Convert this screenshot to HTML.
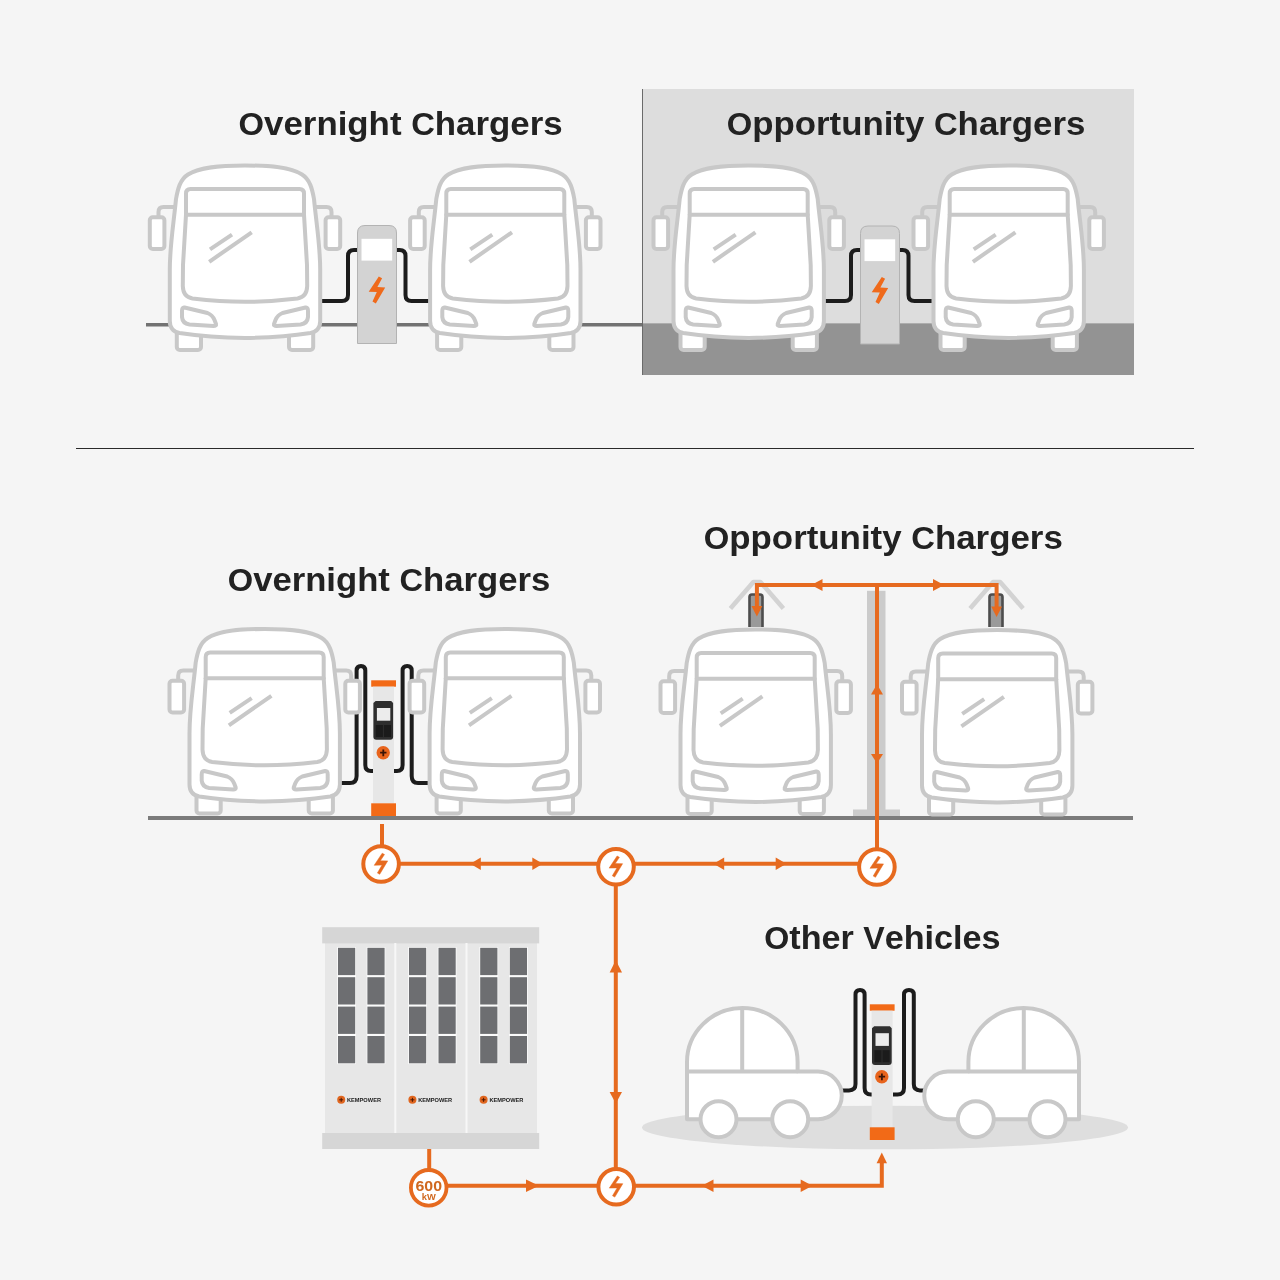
<!DOCTYPE html>
<html><head><meta charset="utf-8"><title>Charging</title>
<style>
html,body{margin:0;padding:0;background:#f5f5f5;}
svg{display:block;}

text{font-family:"Liberation Sans",sans-serif;font-weight:bold;}
</style></head>
<body>
<svg width="1280" height="1280" viewBox="0 0 1280 1280">
<defs>
<g id="bus">
 <g fill="#fff" stroke="#c8c8c8" stroke-width="4" stroke-linejoin="round" stroke-linecap="round">
  <rect x="37.3" y="174" width="24.2" height="21" rx="3"/>
  <rect x="149.5" y="174" width="24.2" height="21" rx="3"/>
  <path d="M19 62 V57 Q19 52 24 52 H35" fill="none"/>
  <path d="M192 62 V57 Q192 52 187 52 H176" fill="none"/>
  <rect x="10.3" y="62.3" width="14.6" height="31.6" rx="3"/>
  <rect x="186.1" y="62.3" width="14.6" height="31.6" rx="3"/>
  <path d="M105.5 10.5 C80 10.5 60 12 48.5 19.5 C40.5 24.5 38.3 34 36.5 44 C34 70 30.3 90 30.3 115 L30.3 166 Q30.3 176 40 178 Q70 182.5 105.5 183 Q141 182.5 171 178 Q180.7 176 180.7 166 L180.7 115 C180.7 90 177 70 174.5 44 C172.7 34 170.5 24.5 162.5 19.5 C151 12 131 10.5 105.5 10.5 Z"/>
  <path d="M51 34 H160 Q164.5 34 164.5 38.5 L164.5 59.7 L167.5 110 L167.7 131 Q167.4 142 158 143.5 Q130 146.8 105.5 146.8 Q81 146.8 53 143.5 Q43.6 142 43.3 131 L43.5 110 L46.5 59.7 L46.5 38.5 Q46.5 34 51 34 Z"/>
  <path d="M46.5 59.7 H164.5" fill="none"/>
  <path d="M45 152.5 L68 158 Q73 160 75 165 L76.5 169 Q77 171 74 171 L50 169.5 Q43 168.5 42.5 162 L42.5 156 Q42.5 152 45 152.5 Z"/>
  <path d="M166 152.5 L143 158 Q138 160 136 165 L134.5 169 Q134 171 137 171 L161 169.5 Q168 168.5 168.5 162 L168.5 156 Q168.5 152 166 152.5 Z"/>
  <path d="M70.5 94.3 L92.5 79.6 M69.7 106.8 L112.2 77.3" fill="none" stroke-linecap="butt"/>
 </g>
</g>
<g id="pillar">
 <rect x="371.2" y="680.3" width="24.8" height="6.4" fill="#f26a17"/>
 <rect x="373" y="686.7" width="21" height="116.6" fill="#e7e7e7"/>
 <rect x="371.2" y="803.3" width="24.8" height="12.7" fill="#f26a17"/>
 <circle cx="383.2" cy="752.7" r="6.7" fill="#e8641c"/>
 <path d="M380.1 752.7 H386.5 M383.3 749.4 V756.2" stroke="#3b1507" stroke-width="1.8"/>
</g>
<g id="pdevice">
 <path d="M375.6 701 H391.2 L393.1 703 V736.7 Q393.1 739.7 390.1 739.7 H376.4 Q373.4 739.7 373.4 736.7 V703 Z" fill="#2e2e2e"/>
 <rect x="376.9" y="708" width="13.4" height="12.7" fill="#ececec"/>
 <rect x="375.8" y="725" width="7.1" height="12" fill="#1b1b1b"/>
 <rect x="383.9" y="725" width="7.1" height="12" fill="#1b1b1b"/>
</g>
<g id="node">
 <circle cx="0" cy="0" r="17.8" fill="#fff" stroke="#e66a1f" stroke-width="4"/>
 <polygon points="1.1,-10.8 3.4,-9.5 -0.8,-3.2 6.6,-3.1 -1.4,10.3 -3.7,9 0.9,1.1 -6.9,1.3" fill="#e66a1f" stroke="#e66a1f" stroke-width="0.5" stroke-linejoin="round"/>
</g>
</defs>

<rect x="0" y="0" width="1280" height="1280" fill="#f5f5f5"/>

<!-- ============ TOP SECTION ============ -->
<!-- opportunity box -->
<rect x="642" y="89" width="492" height="234.5" fill="#dddddd"/>
<rect x="642" y="323.3" width="492" height="51.7" fill="#939393"/>
<rect x="642" y="89" width="1" height="286" fill="#6a6a6a"/>
<!-- ground line -->
<rect x="146" y="323" width="496" height="3.5" fill="#727272"/>

<!-- titles -->
<g style="filter:blur(0px)"><text x="238.6" y="135" font-size="33" fill="#222" textLength="324" lengthAdjust="spacingAndGlyphs"><tspan font-size="32">O</tspan><tspan font-size="34">vernight </tspan><tspan font-size="32">C</tspan><tspan font-size="34">hargers</tspan></text></g>
<g style="filter:blur(0px)"><text x="726.8" y="134.8" font-size="33" fill="#222" textLength="358.5" lengthAdjust="spacingAndGlyphs"><tspan font-size="32">O</tspan><tspan font-size="34">pportunity </tspan><tspan font-size="32">C</tspan><tspan font-size="34">hargers</tspan></text></g>

<!-- top overnight cables -->
<g fill="none" stroke="#1c1c1c" stroke-width="4">
 <path d="M320 301 H342 Q348 301 348 295 V256 Q348 250 354 250 H358"/>
 <path d="M396 250 H399.5 Q405.5 250 405.5 256 V295 Q405.5 301 411.5 301 H432"/>
 <path d="M823 301 H845 Q851 301 851 295 V256 Q851 250 857 250 H861"/>
 <path d="M899 250 H902.5 Q908.5 250 908.5 256 V295 Q908.5 301 914.5 301 H935"/>
</g>

<use href="#bus" transform="translate(139.5 155)"/>
<use href="#bus" transform="translate(399.8 155)"/>
<use href="#bus" transform="translate(643.2 155)"/>
<use href="#bus" transform="translate(903.2 155)"/>

<!-- top chargers -->
<g id="tcharger">
 <path d="M357.5 343.5 V233 Q357.5 225.5 365 225.5 H389 Q396.5 225.5 396.5 233 V343.5 Z" fill="#d3d3d3" stroke="#b3b3b3" stroke-width="1"/>
 <rect x="361.5" y="238.8" width="30.7" height="21.8" fill="#fff"/>
 <polygon points="378.8,276.4 382.1,278.2 377.4,287.1 385.2,287.4 375.8,303.5 372.5,301.6 376.8,292.0 368.7,291.7" fill="#ef6a1b"/>
</g>
<use href="#tcharger" transform="translate(503 0.5)"/>

<!-- divider -->
<rect x="76" y="448" width="1118" height="1" fill="#2a2a2a"/>

<!-- ============ BOTTOM SECTION ============ -->
<g style="filter:blur(0px)"><text x="227.8" y="590.9" font-size="33" fill="#222" textLength="322.4" lengthAdjust="spacingAndGlyphs"><tspan font-size="32">O</tspan><tspan font-size="34">vernight </tspan><tspan font-size="32">C</tspan><tspan font-size="34">hargers</tspan></text></g>
<g style="filter:blur(0px)"><text x="703.8" y="549.1" font-size="33" fill="#222" textLength="359" lengthAdjust="spacingAndGlyphs"><tspan font-size="32">O</tspan><tspan font-size="34">pportunity </tspan><tspan font-size="32">C</tspan><tspan font-size="34">hargers</tspan></text></g>
<g style="filter:blur(0px)"><text x="764.3" y="949" font-size="33" fill="#222" textLength="236.3" lengthAdjust="spacingAndGlyphs"><tspan font-size="32">O</tspan><tspan font-size="34">ther </tspan><tspan font-size="32">V</tspan><tspan font-size="34">ehicles</tspan></text></g>

<!-- pole -->
<rect x="867" y="590.8" width="18.5" height="222" fill="#cbcbcb"/>
<rect x="853" y="809.5" width="47" height="7" fill="#cbcbcb"/>

<!-- pantographs -->
<g fill="none" stroke="#d3d3d3" stroke-width="4.6" stroke-linejoin="round">
 <path d="M730.4 608.5 L753.4 582 L760.4 582 L783.4 608.5"/>
 <path d="M970.1 608.5 L993.1 582 L1000.1 582 L1023.1 608.5"/>
</g>
<g>
 <path d="M749.5 627 V597 Q749.5 594.5 752 594.5 H760 Q762.5 594.5 762.5 597 V627" fill="#9a9a9a" stroke="#4d4d4d" stroke-width="2.6"/>
 <path d="M989.5 627 V597 Q989.5 594.5 992 594.5 H1000 Q1002.5 594.5 1002.5 597 V627" fill="#9a9a9a" stroke="#4d4d4d" stroke-width="2.6"/>
</g>

<!-- ground line bottom -->
<rect x="148" y="816" width="985" height="4" fill="#7b7b7b"/>

<!-- bottom overnight cables -->
<g fill="none" stroke="#1c1c1c" stroke-width="4">
 <path d="M340 783 H350 Q356.6 783 356.6 776 V670.5 Q356.6 666 361 666 Q365.3 666 365.3 670.5 V765 Q365.3 771 371 771 H374"/>
 <path d="M428 783 H418 Q411.7 783 411.7 776 V670.5 Q411.7 666 407.2 666 Q402.6 666 402.6 670.5 V765 Q402.6 771 397 771 H394"/>
</g>

<use href="#bus" transform="translate(159.2 618.5)"/>
<use href="#bus" transform="translate(399.3 618.5)"/>
<use href="#bus" transform="translate(650.2 619)"/>
<use href="#bus" transform="translate(891.7 619.5)"/>

<use href="#pillar"/>
<use href="#pdevice"/>

<!-- car shadow -->
<ellipse cx="885" cy="1127.5" rx="243" ry="21.8" fill="#dedede"/>

<!-- car charger cables -->
<g fill="none" stroke="#1c1c1c" stroke-width="4">
 <path d="M838 1090.4 H849 Q855.5 1090.4 855.5 1084 V994.5 Q855.5 990 860 990 Q864.6 990 864.6 994.5 V1088 Q864.6 1094.6 871 1094.6 H873"/>
 <path d="M928 1090.4 H920 Q913.8 1090.4 913.8 1084 V994.5 Q913.8 990 909 990 Q904 990 904 994.5 V1088 Q904 1094.6 897.5 1094.6 H893"/>
</g>

<!-- cars -->
<g id="car" fill="#fff" stroke="#c8c8c8" stroke-width="4" stroke-linejoin="round">
 <path d="M687 1119.2 V1062 A55.3 54 0 0 1 797.6 1062 V1071.6 H818 A23.8 23.8 0 0 1 818 1119.2 Z"/>
 <path d="M687 1071.6 H797.6 M742.2 1008.5 V1071.6" fill="none"/>
 <circle cx="718.5" cy="1119.2" r="18"/>
 <circle cx="790.2" cy="1119.2" r="18"/>
</g>
<use href="#car" transform="translate(1766 0) scale(-1 1)"/>

<use href="#pillar" transform="translate(498.6 324)"/>
<use href="#pdevice" transform="translate(498.6 325.2)"/>

<!-- cabinet -->
<rect x="325" y="943" width="212" height="190" fill="#e7e7e7"/>
<rect x="322.2" y="927.2" width="217" height="16.2" fill="#d6d6d6"/>
<rect x="322.2" y="1133" width="217" height="16" fill="#d6d6d6"/>
<rect x="394.3" y="943" width="2" height="190" fill="#f7f7f7"/>
<rect x="465.5" y="943" width="2" height="190" fill="#f7f7f7"/>
<g fill="#fbfbfb"><rect x="337.2" y="947" width="18.8" height="117.1"/><rect x="366.6" y="947" width="18.8" height="117.1"/><rect x="408.2" y="947" width="18.8" height="117.1"/><rect x="437.7" y="947" width="18.8" height="117.1"/><rect x="479.4" y="947" width="18.8" height="117.1"/><rect x="509.0" y="947" width="18.8" height="117.1"/></g>
<g fill="#6d6e71">
 <rect x="338" y="947.8" width="17.2" height="27.3"/><rect x="338" y="977.2" width="17.2" height="27.3"/><rect x="338" y="1006.6" width="17.2" height="27.3"/><rect x="338" y="1036" width="17.2" height="27.3"/>
 <rect x="367.4" y="947.8" width="17.2" height="27.3"/><rect x="367.4" y="977.2" width="17.2" height="27.3"/><rect x="367.4" y="1006.6" width="17.2" height="27.3"/><rect x="367.4" y="1036" width="17.2" height="27.3"/>
 <rect x="409" y="947.8" width="17.2" height="27.3"/><rect x="409" y="977.2" width="17.2" height="27.3"/><rect x="409" y="1006.6" width="17.2" height="27.3"/><rect x="409" y="1036" width="17.2" height="27.3"/>
 <rect x="438.5" y="947.8" width="17.2" height="27.3"/><rect x="438.5" y="977.2" width="17.2" height="27.3"/><rect x="438.5" y="1006.6" width="17.2" height="27.3"/><rect x="438.5" y="1036" width="17.2" height="27.3"/>
 <rect x="480.2" y="947.8" width="17.2" height="27.3"/><rect x="480.2" y="977.2" width="17.2" height="27.3"/><rect x="480.2" y="1006.6" width="17.2" height="27.3"/><rect x="480.2" y="1036" width="17.2" height="27.3"/>
 <rect x="509.8" y="947.8" width="17.2" height="27.3"/><rect x="509.8" y="977.2" width="17.2" height="27.3"/><rect x="509.8" y="1006.6" width="17.2" height="27.3"/><rect x="509.8" y="1036" width="17.2" height="27.3"/>
</g>
<g id="klogo">
 <circle cx="341.2" cy="1099.8" r="4" fill="#e0661f"/>
 <path d="M339.2 1099.8 H343.2 M341.2 1097.8 V1101.8" stroke="#4a1805" stroke-width="1"/>
 <g style="filter:blur(0px)"><text x="347" y="1102.3" font-size="6.2" fill="#1a1a1a" textLength="34" lengthAdjust="spacingAndGlyphs">KEMPOWER</text></g>
</g>
<use href="#klogo" transform="translate(71.2 0)"/>
<use href="#klogo" transform="translate(142.4 0)"/>

<!-- ============ ORANGE NETWORK ============ -->
<g fill="none" stroke="#e66a1f" stroke-width="4">
 <!-- pillar to node1 -->
 <path d="M382 824 V846"/>
 <!-- top horizontal -->
 <path d="M381 863.8 H877"/>
 <!-- vertical node2 to node4 -->
 <path d="M615.8 866 V1187"/>
 <!-- pole vertical -->
 <path d="M877 866 V585"/>
 <!-- pantograph horizontal -->
 <path d="M756.9 585 H996.6"/>
 <path d="M756.9 583 V612"/>
 <path d="M996.6 583 V612"/>
 <!-- cabinet to 600 -->
 <path d="M429.2 1149 V1170"/>
 <!-- bottom horizontal -->
 <path d="M429 1185.8 H881.8 V1160"/>
</g>
<g fill="#e66a1f">
 <!-- top horizontal arrows -->
 <polygon points="470.3,863.8 480.8,857.6 480.8,870"/>
 <polygon points="542.8,863.8 532.3,857.6 532.3,870"/>
 <polygon points="713.5,863.8 724.2,857.6 724.2,870"/>
 <polygon points="786.4,863.8 775.7,857.6 775.7,870"/>
 <!-- vertical node2-node4 arrows -->
 <polygon points="615.8,960.2 609.6,972.5 622,972.5"/>
 <polygon points="615.8,1103.4 609.6,1091.9 622,1091.9"/>
 <!-- pole arrows -->
 <polygon points="877,684.2 871,694.5 883,694.5"/>
 <polygon points="877,763.6 871,754 883,754"/>
 <!-- pantograph horizontal arrows -->
 <polygon points="811.3,585 822.5,579 822.5,591"/>
 <polygon points="944.2,585 933,579 933,591"/>
 <!-- pantograph down arrows -->
 <polygon points="756.9,616.5 751.5,606 762.3,606"/>
 <polygon points="996.6,617 991.2,606.5 1002,606.5"/>
 <!-- bottom horizontal arrows -->
 <polygon points="539,1185.8 526,1179.6 526,1192"/>
 <polygon points="701.8,1185.8 713.5,1179.6 713.5,1192"/>
 <polygon points="812.4,1185.8 800.7,1179.6 800.7,1192"/>
 <polygon points="881.8,1152.4 876.6,1163.3 887,1163.3"/>
</g>

<use href="#node" transform="translate(381.1 864)"/>
<use href="#node" transform="translate(616 866.8)"/>
<use href="#node" transform="translate(876.9 867)"/>
<use href="#node" transform="translate(616.2 1186.8)"/>

<!-- 600 kW -->
<circle cx="428.7" cy="1187.8" r="17.8" fill="#fff" stroke="#e66a1f" stroke-width="3.8"/>
<g style="filter:blur(0px)"><text x="415.5" y="1190.7" font-size="14" fill="#d0681f" textLength="26.5" lengthAdjust="spacingAndGlyphs">600</text></g>
<g style="filter:blur(0px)"><text x="421.8" y="1199.8" font-size="9.4" fill="#d0681f" textLength="14" lengthAdjust="spacingAndGlyphs">kW</text></g>

</svg>
</body></html>
